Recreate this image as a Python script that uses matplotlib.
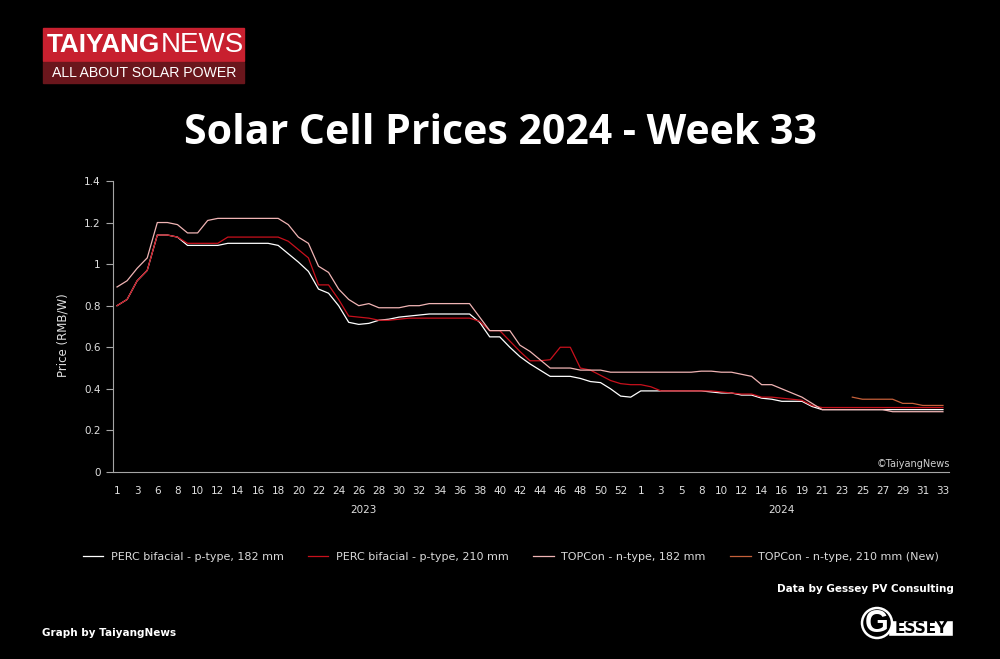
import numpy as np
import matplotlib
matplotlib.use("Agg")
import matplotlib.pyplot as plt
from matplotlib.patches import Rectangle, Circle

# categories: weeks 2023 (52 entries) + weeks 2024 (31 entries)
weeks_2023 = [1, 2, 3, 5, 6, 7, 8, 9, 10, 11, 12, 13, 14, 15, 16, 17, 18, 19, 20,
              21, 22, 23, 24, 25, 26, 27, 28, 29, 30, 31, 32, 33, 34, 35, 36, 37,
              38, 39, 40, 41, 42, 43, 44, 45, 46, 47, 48, 49, 50, 51, 52, 53]
weeks_2024 = [1, 2, 3, 4, 5, 7, 8, 9, 10, 11, 12, 13, 14, 15, 16, 17, 19, 20, 21,
              22, 23, 24, 25, 26, 27, 28, 29, 30, 31, 32, 33]
years = ["2023", "2024"]

# prices RMB/W
perc_182 = [0.80, 0.83, 0.92, 0.97, 1.14, 1.14, 1.13, 1.09, 1.09, 1.09,
            1.09, 1.10, 1.10, 1.10, 1.10, 1.10, 1.09, 1.05, 1.01, 0.965,
            0.88, 0.86, 0.80, 0.72, 0.71, 0.715, 0.73, 0.735, 0.745, 0.75,
            0.755, 0.76, 0.76, 0.76, 0.76, 0.76, 0.72, 0.65, 0.65, 0.60,
            0.555, 0.52, 0.49, 0.46, 0.46, 0.46, 0.45, 0.435, 0.43, 0.40,
            0.365, 0.36, 0.39, 0.39, 0.39, 0.39, 0.39, 0.39, 0.39, 0.385,
            0.38, 0.38, 0.37, 0.37, 0.355, 0.35, 0.34, 0.34, 0.34, 0.315,
            0.30, 0.30, 0.30, 0.30, 0.30, 0.30, 0.30, 0.30, 0.30, 0.30,
            0.30, 0.30, 0.30]
perc_210 = [0.80, 0.83, 0.92, 0.97, 1.14, 1.14, 1.13, 1.10, 1.10, 1.10,
            1.10, 1.13, 1.13, 1.13, 1.13, 1.13, 1.13, 1.11, 1.07, 1.03,
            0.90, 0.90, 0.83, 0.75, 0.745, 0.74, 0.73, 0.73, 0.735, 0.74,
            0.74, 0.74, 0.74, 0.74, 0.74, 0.74, 0.725, 0.68, 0.68, 0.63,
            0.58, 0.535, 0.535, 0.54, 0.60, 0.60, 0.50, 0.49, 0.465, 0.44,
            0.425, 0.42, 0.42, 0.41, 0.39, 0.39, 0.39, 0.39, 0.39, 0.39,
            0.385, 0.38, 0.375, 0.375, 0.36, 0.36, 0.355, 0.35, 0.345, 0.32,
            0.31, 0.31, 0.31, 0.31, 0.31, 0.31, 0.31, 0.31, 0.31, 0.31,
            0.31, 0.31, 0.31]
topcon_182 = [0.89, 0.92, 0.98, 1.03, 1.20, 1.20, 1.19, 1.15, 1.15, 1.21,
              1.22, 1.22, 1.22, 1.22, 1.22, 1.22, 1.22, 1.19, 1.13, 1.10,
              0.99, 0.96, 0.88, 0.83, 0.80, 0.81, 0.79, 0.79, 0.79, 0.80,
              0.80, 0.81, 0.81, 0.81, 0.81, 0.81, 0.745, 0.68, 0.68, 0.68,
              0.61, 0.58, 0.54, 0.50, 0.50, 0.50, 0.49, 0.49, 0.49, 0.48,
              0.48, 0.48, 0.48, 0.48, 0.48, 0.48, 0.48, 0.48, 0.485, 0.485,
              0.48, 0.48, 0.47, 0.46, 0.42, 0.42, 0.40, 0.38, 0.36, 0.33,
              0.30, 0.30, 0.30, 0.30, 0.30, 0.30, 0.30, 0.29, 0.29, 0.29,
              0.29, 0.29, 0.29]
topcon_210_new = [np.nan] * 73 + [0.36, 0.35, 0.35, 0.35, 0.35, 0.33, 0.33,
                                  0.32, 0.32, 0.32]

series_names = ["PERC bifacial - p-type, 182 mm", "PERC bifacial - p-type, 210 mm",
                "TOPCon - n-type, 182 mm", "TOPCon - n-type, 210 mm (New)"]
colors = ["#ffffff", "#c8101c", "#f0b4b4", "#c5603a"]

week_labels = [str(w) for w in weeks_2023 + weeks_2024]
x = np.arange(len(week_labels))

fig = plt.figure(figsize=(10, 6.59), dpi=100, facecolor="black")

# decoration layer in pixel coordinates
deco = fig.add_axes([0, 0, 1, 1], zorder=0)
deco.set_xlim(0, 1000)
deco.set_ylim(659, 0)
deco.axis("off")

ax = fig.add_axes([0.113, 0.2838, 0.836, 0.4416], zorder=1)
ax.set_facecolor("black")

for vals, name, c in zip([perc_182, perc_210, topcon_182, topcon_210_new],
                         series_names, colors):
    ax.plot(x, vals, color=c, lw=0.9, label=name)

ax.set_xlim(-0.4, len(x) - 0.4)
ax.set_ylim(0, 1.4)
ax.set_yticks(np.arange(0, 1.41, 0.2))
ax.set_yticklabels(["0", "0.2", "0.4", "0.6", "0.8", "1", "1.2", "1.4"])
ax.set_xticks(x[::2])
ax.set_xticklabels(week_labels[::2])
ax.tick_params(axis="x", length=0, pad=10, labelsize=7.5, labelcolor="#e0e0e0")
ax.tick_params(axis="y", length=5, width=0.8, color="#a6a6a6", pad=4,
               labelsize=7.5, labelcolor="#e0e0e0")
for s in ["top", "right"]:
    ax.spines[s].set_visible(False)
for s in ["left", "bottom"]:
    ax.spines[s].set_color("#a6a6a6")
    ax.spines[s].set_linewidth(0.8)

# year group labels
n23 = len(weeks_2023)
n_all = len(week_labels)
ax.text((n23 - 1) / 2 - 1, -0.13, years[0], transform=ax.get_xaxis_transform(),
        ha="center", va="center", fontsize=7.5, color="#e0e0e0")
ax.text((n23 + n_all - 1) / 2 - 1, -0.13, years[1], transform=ax.get_xaxis_transform(),
        ha="center", va="center", fontsize=7.5, color="#e0e0e0")

fig.text(0.063, 1 - 335 / 659, "Price (RMB/W)", rotation=90, ha="center",
         va="center", fontsize=8.5, color="#e0e0e0")
fig.text(0.95, 1 - 464 / 659, "\u00a9TaiyangNews", ha="right", va="center",
         fontsize=7, color="#d0d0d0")

fig.text(0.5, 1 - 133 / 659, "Solar Cell Prices 2024 - Week 33", ha="center",
         va="center", fontsize=29.5, fontweight="bold", color="white",
         family="Open Sans")

fig.legend(loc="center", bbox_to_anchor=(0.511, 1 - 557 / 659), ncol=4,
           frameon=False, fontsize=8.05, labelcolor="#d9d9d9", handlelength=1.8,
           handletextpad=0.7, columnspacing=2.2)

# TaiyangNews logo
deco.add_patch(Rectangle((43, 28), 201, 33, color="#c8202f"))
deco.add_patch(Rectangle((43, 62), 201, 21, color="#6a161c"))
deco.text(47, 45, "TAIYANG", ha="left", va="center", fontsize=18.8,
          fontweight="bold", color="white", family="Liberation Sans")
deco.text(244, 45, "NEWS", ha="right", va="center", fontsize=20,
          color="white", family="Liberation Sans")
deco.text(144, 73, "ALL ABOUT SOLAR POWER", ha="center", va="center",
          fontsize=10.2, color="white", family="Liberation Sans")

fig.text(0.954, 1 - 589 / 659, "Data by Gessey PV Consulting", ha="right",
         va="center", fontsize=7.5, fontweight="bold", color="white")
fig.text(0.042, 1 - 633 / 659, "Graph by TaiyangNews", ha="left", va="center",
         fontsize=7.5, fontweight="bold", color="white")

# Gessey logo
deco.add_patch(Rectangle((888, 620), 65, 16, facecolor="white", edgecolor="black"))
deco.text(921, 628.5, "ESSEY", ha="center", va="center", fontsize=11,
          fontweight="bold", color="black", family="Liberation Sans Narrow")
deco.add_patch(Circle((877, 623), 15, facecolor="black", edgecolor="white", lw=1.8))
deco.text(877, 624, "G", ha="center", va="center", fontsize=22,
          fontweight="heavy", color="white", family="Liberation Sans")

fig.savefig("out.png", dpi=100, facecolor="black")
